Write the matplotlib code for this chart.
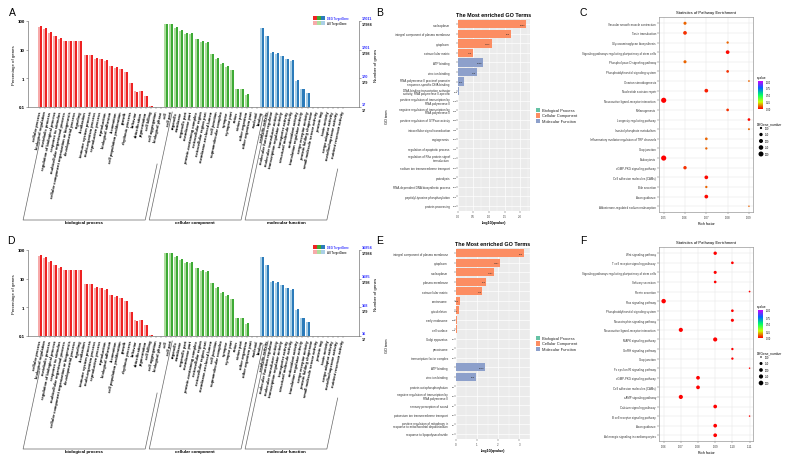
import numpy as np
import matplotlib
matplotlib.use("Agg")
from matplotlib import pyplot as plt
from matplotlib.colors import LinearSegmentedColormap, Normalize
from matplotlib.cm import ScalarMappable
from matplotlib.patches import Rectangle

plt.rcParams['font.family'] = ['Liberation Sans', 'DejaVu Sans']

W, H = 792, 464

# ---------------- GO level-2 classification (A, D) ----------------
bp_terms = ["cellular process", "biological regulation", "metabolic process",
            "regulation of biological process", "response to stimulus",
            "multicellular organismal process",
            "cellular component organization or biogenesis", "developmental process",
            "signaling", "localization", "immune system process", "multi-organism process",
            "reproductive process", "reproduction", "biological adhesion", "locomotion",
            "cell population proliferation", "growth", "rhythmic process", "behavior",
            "detoxification", "pigmentation", "cell killing", "cell aggregation",
            "biological phase"]
cc_terms = ["cell", "cell part", "organelle", "membrane", "organelle part", "membrane part",
            "protein-containing complex", "extracellular region", "extracellular region part",
            "membrane-enclosed lumen", "cell junction", "supramolecular complex", "synapse",
            "synapse part", "virion", "virion part", "other organism", "other organism part",
            "nucleoid"]
mf_terms = ["binding", "catalytic activity", "molecular function regulator",
            "molecular transducer activity", "transcription regulator activity",
            "transporter activity", "structural molecule activity", "antioxidant activity",
            "translation regulator activity", "cargo receptor activity",
            "protein folding chaperone", "small molecule sensor activity", "protein tag",
            "toxin activity", "cargo adaptor activity", "metallochaperone activity",
            "nutrient reservoir activity"]

bp_all = [62, 52, 38, 30, 24, 20, 20, 20, 20, 6.5, 6.3, 4.8, 4.8, 4.0, 2.7, 2.3, 2.1,
          1.6, 0.7, 0.35, 0.36, 0.24, 0.11, 0, 0]
bp_deg = [65, 55, 40, 31, 25, 20, 20, 20, 20, 6.6, 6.5, 5.0, 4.9, 4.2, 2.8, 2.4, 2.1,
          1.6, 0.7, 0.34, 0.37, 0.24, 0.11, 0, 0]
cc_all = [76, 76, 58, 46, 36, 36, 23, 19, 17, 6.8, 4.8, 3.2, 2.5, 1.9, 0.41, 0.41, 0.27, 0, 0]
cc_deg = [78, 78, 60, 48, 37, 37, 24, 20, 18, 7.0, 5.0, 3.3, 2.6, 2.0, 0.42, 0.42, 0.28, 0, 0]
mf_all = [56, 30, 7.8, 7.3, 5.8, 4.7, 4.1, 0.83, 0.41, 0.31, 0, 0, 0, 0, 0, 0, 0]
mf_deg = [58, 31, 8.0, 7.5, 6.0, 4.8, 4.2, 0.85, 0.42, 0.32, 0, 0, 0, 0, 0, 0, 0]

pct_ticks = [100, 10, 1, 0.1]
genes_deg_a = [17011, 1701, 170, 17]
genes_all_a = [17984, 1798, 179, 17]
genes_deg_d = [16854, 1685, 168, 16]
genes_all_d = [17984, 1798, 179, 17]

# ---------------- most enriched GO terms (B, E) ----------------
b_terms = ["nucleoplasm", "integral component of plasma membrane", "cytoplasm",
           "extracellular matrix", "ATP binding", "zinc ion binding",
           "RNA polymerase II proximal promoter\nsequence-specific DNA binding",
           "DNA-binding transcription activator\nactivity, RNA polymerase II-specific",
           "positive regulation of transcription by\nRNA polymerase II",
           "negative regulation of transcription by\nRNA polymerase II",
           "positive regulation of GTPase activity", "intracellular signal transduction",
           "angiogenesis", "regulation of apoptotic process",
           "regulation of Rho protein signal\ntransduction",
           "sodium ion transmembrane transport", "proteolysis",
           "RNA-dependent DNA biosynthetic process", "peptidyl-tyrosine phosphorylation",
           "protein processing"]
b_class = ["CC"] * 4 + ["MF"] * 4 + ["BP"] * 12
b_logq = [2.18, 1.69, 1.08, 0.50, 0.82, 0.61, 0.21, 0.03] + [0] * 12
b_count = [1380, 826, 2415, 158, 1268, 958, 370, 108, 716, 736, 330, 286, 101, 482, 110,
           404, 336, 101, 402, 300]

e_terms = ["integral component of plasma membrane", "cytoplasm", "nucleoplasm",
           "plasma membrane", "extracellular matrix", "centrosome", "cytoskeleton",
           "early endosome", "cell surface", "Golgi apparatus", "peroxisome",
           "transcription factor complex", "ATP binding", "zinc ion binding",
           "protein autophosphorylation",
           "negative regulation of transcription by\nRNA polymerase II",
           "sensory perception of sound", "potassium ion transmembrane transport",
           "positive regulation of mitophagy in\nresponse to mitochondrial depolarization",
           "response to lipopolysaccharide"]
e_class = ["CC"] * 12 + ["MF"] * 2 + ["BP"] * 6
e_logq = [3.23, 2.11, 1.81, 1.45, 1.26, 0.20, 0.15, 0.05, 0.05, 0, 0, 0, 1.40, 0.96,
          0, 0, 0, 0, 0, 0]
e_count = [609, 2467, 1567, 170, 143, 100, 181, 130, 148, 70, 60, 60, 1240, 869, 53, 46,
           50, 51, 51, 71]

# ---------------- KEGG pathway enrichment (C, F) ----------------
c_terms = ["Vascular smooth muscle contraction", "Taste transduction",
           "Glycosaminoglycan biosynthesis",
           "Signaling pathways regulating pluripotency of stem cells",
           "Phospholipase D signaling pathway", "Phosphatidylinositol signaling system",
           "Ovarian steroidogenesis", "Nucleotide excision repair",
           "Neuroactive ligand-receptor interaction", "Melanogenesis",
           "Longevity regulating pathway", "Inositol phosphate metabolism",
           "Inflammatory mediator regulation of TRP channels", "Gap junction",
           "Endocytosis", "cGMP-PKG signaling pathway", "Cell adhesion molecules (CAMs)",
           "Bile secretion", "Axon guidance", "Aldosterone-regulated sodium reabsorption"]
c_rich = [1.06, 1.06, 1.08, 1.08, 1.06, 1.08, 1.09, 1.07, 1.05, 1.08, 1.09, 1.09, 1.07,
          1.07, 1.05, 1.06, 1.07, 1.07, 1.07, 1.09]
c_qvalue = [0.10, 0.05, 0.10, 0.01, 0.10, 0.05, 0.10, 0.03, 0.0, 0.05, 0.01, 0.10, 0.10,
            0.10, 0.0, 0.05, 0.01, 0.10, 0.01, 0.10]
c_genes = [133, 175, 102, 175, 133, 115, 91, 175, 322, 115, 115, 94, 115, 102, 322, 152,
           175, 102, 175, 90]

f_terms = ["Wnt signaling pathway", "T cell receptor signaling pathway",
           "Signaling pathways regulating pluripotency of stem cells", "Salivary secretion",
           "Renin secretion", "Ras signaling pathway", "Phosphatidylinositol signaling system",
           "Neurotrophin signaling pathway", "Neuroactive ligand-receptor interaction",
           "MAPK signaling pathway", "GnRH signaling pathway", "Gap junction",
           "Fc epsilon RI signaling pathway", "cGMP-PKG signaling pathway",
           "Cell adhesion molecules (CAMs)", "cAMP signaling pathway",
           "Calcium signaling pathway", "B cell receptor signaling pathway", "Axon guidance",
           "Adrenergic signaling in cardiomyocytes"]
f_rich = [1.09, 1.10, 1.09, 1.09, 1.11, 1.06, 1.10, 1.10, 1.07, 1.09, 1.10, 1.10, 1.11,
          1.08, 1.08, 1.07, 1.09, 1.11, 1.09, 1.09]
f_qvalue = [0.0] * 20
f_genes = [175, 128, 152, 128, 101, 281, 128, 152, 245, 245, 115, 115, 100, 202, 202, 245,
           202, 100, 202, 202]

size_breaks = [100, 150, 200, 250, 300]

# ---------------- styling ----------------
dark = ["#EE2222", "#3DAA35", "#2B7BBA"]
light = ["#F7AAAA", "#AEDD9E", "#AACFE6"]
class_color = {"BP": "#66C2A5", "CC": "#FC8D62", "MF": "#8DA0CB"}
class_name = {"BP": "Biological Process", "CC": "Cellular Component",
              "MF": "Molecular Function"}
rainbow = LinearSegmentedColormap.from_list(
    "rb", ["#FF0000", "#CCFF00", "#00FF66", "#0066FF", "#CC00FF"])

fig = plt.figure(figsize=(W / 100, H / 100), dpi=100)


def px_rect(x0, y0, x1, y1):
    return [x0 / W, 1 - y1 / H, (x1 - x0) / W, (y1 - y0) / H]


def to_px(ax, x, y):
    dx, dy = ax.transData.transform((x, y))
    return dx, H - dy


deco = fig.add_axes([0, 0, 1, 1], zorder=10)
deco.set_xlim(0, W)
deco.set_ylim(H, 0)
deco.axis('off')
deco.patch.set_alpha(0)


def go_level2(dy, deg_labels, all_labels):
    ax = fig.add_axes(px_rect(28, 22 + dy, 359, 108 + dy))
    groups = [(bp_terms, bp_all, bp_deg), (cc_terms, cc_all, cc_deg),
              (mf_terms, mf_all, mf_deg)]
    terms = bp_terms + cc_terms + mf_terms
    start = 0
    spans = []
    for g, (t, a, d) in enumerate(groups):
        xs = start + np.arange(len(t))
        a = np.array(a, float)
        d = np.array(d, float)
        ma, md = a > 0.1, d > 0.1
        ax.bar(xs[ma] - 0.2, a[ma] - 0.1, bottom=0.1, width=0.4, color=light[g], lw=0)
        ax.bar(xs[md] + 0.2, d[md] - 0.1, bottom=0.1, width=0.4, color=dark[g], lw=0)
        spans.append((start, start + len(t) - 1))
        start += len(t)
    ax.set_yscale('log')
    ax.set_ylim(0.1, 100)
    ax.set_xlim(-2.4, 63.2)
    ax.set_yticks(pct_ticks)
    ax.set_yticklabels(["100", "10", "1", "0.1"], fontsize=3.2, fontweight='bold')
    ax.minorticks_off()
    ax.set_xticks(np.arange(len(terms)))
    ax.set_xticklabels(terms, rotation=78, ha='right', va='center',
                       rotation_mode='anchor', fontsize=2.9, fontweight='bold')
    ax.tick_params(axis='x', length=1.2, width=0.3, pad=1.5, color='#666666')
    ax.tick_params(axis='y', length=1.5, width=0.4, pad=1, color='#666666', right=True)
    ax.spines['top'].set_visible(False)
    for s in ['left', 'right', 'bottom']:
        ax.spines[s].set_color('#777777')
        ax.spines[s].set_linewidth(0.5)
    ax.set_ylabel("Percentage of genes", fontsize=3.2, labelpad=1)
    for v, gd, ga in zip(pct_ticks, deg_labels, all_labels):
        ax.annotate(str(gd), xy=(1, v), xycoords=('axes fraction', 'data'),
                    xytext=(2, 2), textcoords='offset points', fontsize=2.8,
                    fontweight='bold', color='#3333FF', va='center', ha='left')
        ax.annotate(str(ga), xy=(1, v), xycoords=('axes fraction', 'data'),
                    xytext=(2, -2.3), textcoords='offset points', fontsize=2.8,
                    fontweight='bold', color='#222222', va='center', ha='left')
    deco.text(376, 65 + dy, "Number of genes", rotation=90, fontsize=3.2,
              ha='center', va='center')

    # legend squares
    for g in range(3):
        deco.add_patch(Rectangle((313 + 4 * g, 17 + dy), 4, 4, color=dark[g], lw=0))
        deco.add_patch(Rectangle((313 + 4 * g, 22.3 + dy), 4, 4, color=light[g], lw=0))
    deco.text(327, 19 + dy, "DEG TargetGene", fontsize=2, fontweight='bold',
              color='#3333FF', va='center')
    deco.text(327, 24.3 + dy, "All TargetGene", fontsize=2, fontweight='bold',
              color='#333333', va='center')

    # group brackets under the tick labels
    rises = [(78, 56), (108, 104), (108, 51)]
    names = ["biological process", "cellular component", "molecular function"]
    slant = 1 / np.tan(np.radians(78))
    yb = 221 + dy
    for (f, l), (rl, rr), name in zip(spans, rises, names):
        xf = to_px(ax, f, 1)[0] - 17
        xl = to_px(ax, l, 1)[0] - 16
        deco.plot([xf + rl * slant, xf, xl, xl + rr * slant],
                  [yb - rl, yb, yb, yb - rr], color='#666666', lw=0.5)
        deco.text((xf + xl) / 2, yb + 2.5, name, fontsize=3.2, fontweight='bold',
                  ha='center', va='center')


def go_enriched(box, terms, cls, vals, counts, xmax, xticks, xtlabels, leg_y):
    ax = fig.add_axes(px_rect(*box))
    n = len(terms)
    y = np.arange(n)[::-1]
    ax.barh(y, vals, height=0.88, color=[class_color[c] for c in cls], lw=0, zorder=2)
    for yi, v, c in zip(y, vals, counts):
        ax.text(v - xmax * 0.012, yi, str(c), ha='right', va='center', fontsize=1.7,
                color='#222222', zorder=3, clip_on=False)
    ax.set_facecolor('#EBEBEB')
    ax.set_xlim(0, xmax)
    ax.set_ylim(-0.55, n - 0.45)
    ax.set_yticks(y)
    ax.set_yticklabels(terms, fontsize=2.2, color='#333333', linespacing=0.9)
    ax.set_xticks(xticks)
    ax.set_xticklabels(xtlabels, fontsize=2.1, color='#444444')
    ax.set_xticks([t + (xticks[1] - xticks[0]) / 2 for t in xticks], minor=True)
    ax.grid(which='major', color='white', lw=0.5, zorder=0)
    ax.grid(which='minor', axis='x', color='white', lw=0.25, zorder=0)
    ax.set_axisbelow(True)
    ax.tick_params(axis='y', length=1.2, width=0.3, pad=4.5, color='#444444')
    ax.tick_params(axis='x', length=1.2, width=0.3, pad=1, color='#444444')
    ax.tick_params(which='minor', length=0)
    for s in ax.spines.values():
        s.set_visible(False)
    ax.set_title("The Most enriched GO Terms", fontsize=3.9, fontweight='bold', pad=2)
    ax.set_xlabel("-log10(qvalue)", fontsize=2.6, fontweight='bold', labelpad=1.5)
    deco.text(387, (box[1] + box[3]) / 2 + 1, "GO term", rotation=90, fontsize=2.8,
              ha='center', va='center')
    for k, key in enumerate(["BP", "CC", "MF"]):
        deco.add_patch(Rectangle((536, leg_y + 5.8 * k), 4.3, 4.3,
                                 color=class_color[key], lw=0))
        deco.text(542.5, leg_y + 5.8 * k + 2.2, class_name[key], fontsize=2.9,
                  va='center', color='#222222')


def dot_size(genes, nmin, nmax):
    r = np.clip((np.array(genes, float) - nmin) / (nmax - nmin), 0, 1)
    d = 1.5 + 3.8 * np.sqrt(r)
    return (d * 0.72) ** 2


def pathway(box, terms, rich, qv, genes, xticks, xlim, nmin, nmax, dy):
    ax = fig.add_axes(px_rect(*box))
    n = len(terms)
    y = np.arange(n)[::-1]
    ax.scatter(rich, y, s=dot_size(genes, nmin, nmax), c=qv, cmap=rainbow, vmin=0,
               vmax=1, linewidths=0, zorder=3)
    ax.set_yticks(y)
    ax.set_yticklabels(terms, fontsize=2.1, color='#333333')
    ax.set_xticks(xticks)
    ax.set_xticklabels(["%.2f" % t for t in xticks], fontsize=2.1, color='#333333')
    ax.set_xlim(*xlim)
    ax.set_ylim(-0.6, n - 0.35)
    ax.grid(color='#E6E6E6', lw=0.35, zorder=0)
    ax.tick_params(length=1.2, width=0.3, pad=1, color='#555555')
    for s in ax.spines.values():
        s.set_color('#999999')
        s.set_linewidth(0.5)
    ax.set_title("Statistics of Pathway Enrichment", fontsize=3.0, pad=3)
    ax.set_xlabel("Rich factor", fontsize=2.5, labelpad=1.5)

    cax = fig.add_axes(px_rect(758, 82 + dy, 763, 110 + dy))
    cb = fig.colorbar(ScalarMappable(Normalize(0, 1), rainbow), cax=cax)
    cb.set_ticks([0, 0.25, 0.5, 0.75, 1])
    cb.set_ticklabels(["0.00", "0.25", "0.50", "0.75", "1.00"])
    cb.ax.tick_params(labelsize=1.8, length=1, width=0.3, pad=0.8, color='white')
    cb.outline.set_visible(False)
    deco.text(757, 78 + dy, "qvalue", fontsize=2.3, va='center')

    deco.text(757, 124 + dy, "DEGene_number", fontsize=2.3, va='center')
    ys = 129 + dy + 6.5 * np.arange(len(size_breaks))
    deco.scatter([761] * len(size_breaks), ys, s=dot_size(size_breaks, nmin, nmax),
                 c='black', linewidths=0)
    for yy, b in zip(ys, size_breaks):
        deco.text(765, yy, str(b), fontsize=1.8, va='center')


go_level2(0, genes_deg_a, genes_all_a)
go_level2(229, genes_deg_d, genes_all_d)

go_enriched((457.7, 20, 530, 212), b_terms, b_class, b_logq, b_count, 2.31,
            [0, 0.5, 1.0, 1.5, 2.0], ["0.0", "0.5", "1.0", "1.5", "2.0"], 108.5)
go_enriched((455.7, 249, 530, 440), e_terms, e_class, e_logq, e_count, 3.41,
            [0, 1, 2, 3], ["0", "1", "2", "3"], 336.5)

pathway((659, 18, 753, 213), c_terms, c_rich, c_qvalue, c_genes,
        [1.05, 1.06, 1.07, 1.08, 1.09], (1.0478, 1.0919), 90, 340, 0)
pathway((659, 248, 753, 442), f_terms, f_rich, f_qvalue, f_genes,
        [1.06, 1.07, 1.08, 1.09, 1.10, 1.11], (1.0573, 1.112), 100, 400, 229)

for letter, (lx, ly) in zip("ABCDEF", [(12, 13), (380, 13), (583, 13),
                                       (11, 241), (380, 241), (583, 241)]):
    deco.text(lx, ly, letter, fontsize=7.5, ha='center', va='center')

fig.savefig("out.png", dpi=100)
